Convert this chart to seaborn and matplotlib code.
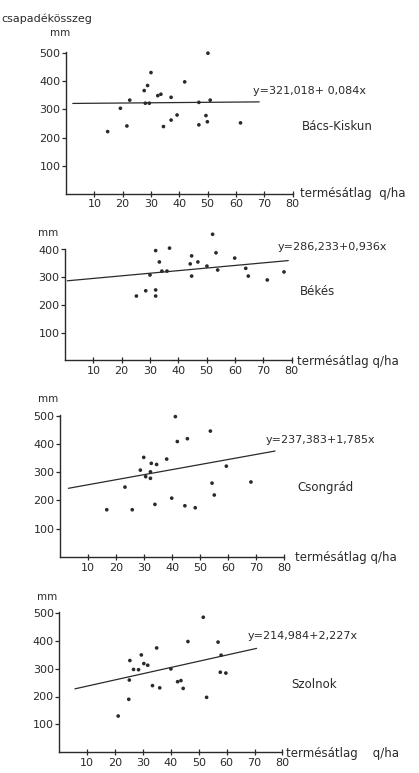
import numpy as np
import pandas as pd
import matplotlib
matplotlib.use("Agg")
import matplotlib.pyplot as plt
import seaborn as sns

sns.set_theme(style="white")
plt.rcParams['font.family'] = ['DejaVu Sans']

# ---------------- data ----------------
bk_x = [14.7, 19.2, 21.5, 22.5, 27.6, 28.8, 30.0, 28.0, 29.4, 32.4, 33.5, 37.1,
        34.4, 37.1, 39.2, 41.9, 46.9, 46.9, 49.4, 49.9, 50.1, 50.9, 61.6]
bk_y = [221, 304, 241, 333, 367, 385, 431, 322, 322, 349, 354, 343,
        239, 262, 280, 398, 325, 245, 278, 256, 500, 333, 252]

be_x = [25.2, 28.5, 30.0, 32.0, 32.0, 32.0, 33.3, 34.2, 36.0, 36.9, 44.2, 44.7,
        44.7, 46.9, 50.1, 52.1, 53.3, 53.9, 59.9, 63.8, 64.7, 71.4, 77.3]
be_y = [232, 251, 308, 396, 254, 232, 355, 322, 322, 405, 348, 377,
        304, 355, 340, 455, 388, 326, 369, 332, 304, 290, 319]

cs_x = [16.7, 23.2, 25.8, 28.7, 29.9, 30.6, 32.3, 32.3, 32.6, 34.5, 33.9, 38.1,
        39.9, 41.2, 41.9, 44.6, 45.5, 48.3, 53.7, 54.3, 55.1, 59.4, 68.2]
cs_y = [167, 247, 167, 307, 352, 284, 301, 278, 331, 327, 186, 346,
        208, 496, 408, 181, 418, 174, 445, 261, 219, 321, 265]

sz_x = [21.1, 24.9, 25.1, 25.3, 26.6, 28.4, 29.4, 30.3, 31.7, 33.4, 34.9, 36.0,
        40.0, 42.4, 43.6, 44.4, 46.1, 51.6, 52.8, 56.9, 58.0, 57.7, 59.7]
sz_y = [130, 190, 259, 329, 297, 296, 349, 318, 312, 239, 374, 231,
        299, 253, 257, 229, 397, 484, 197, 395, 348, 287, 284]

names = ["Bács-Kiskun", "Békés", "Csongrád", "Szolnok"]
intercepts = [321.018, 286.233, 237.383, 214.984]
slopes = [0.084, 0.936, 1.785, 2.227]
equations = ["y=321,018+ 0,084x", "y=286,233+0,936x", "y=237,383+1,785x", "y=214,984+2,227x"]
line_ranges = [(2.4, 68.2), (0.8, 78.8), (3.0, 76.8), (5.6, 70.7)]
xticks = [10, 20, 30, 40, 50, 60, 70, 80]
yticks_all = [[100, 200, 300, 400, 500],
              [100, 200, 300, 400],
              [100, 200, 300, 400, 500],
              [100, 200, 300, 400, 500]]
xlabels = ["termésátlag  q/ha", "termésátlag q/ha", "termésátlag q/ha", "termésátlag    q/ha"]

xs_all = [bk_x, be_x, cs_x, sz_x]
ys_all = [bk_y, be_y, cs_y, sz_y]

# ---------------- layout (pixels) ----------------
W, H = 419, 773
fig = plt.figure(figsize=(W / 100, H / 100), dpi=100)
fig.patch.set_facecolor("white")

# x0px, px per 10 units, y0px (from top), px per 100 units
geo = [(66, 28.33, 193.7, 28.1),
       (65, 28.33, 360.3, 27.7),
       (60, 28.0, 557.0, 28.3),
       (59.3, 27.9, 752.3, 27.9)]
eq_pos = [(253, 91), (278, 247), (266, 440), (248, 636)]
name_pos = [(302, 127), (300, 292), (297, 488), (291, 684)]
mm_pos = [(50, 33), (38, 233), (38, 399), (37, 597)]
xl_pos = [(300, 193), (297, 362), (295, 558), (286, 754)]

XMAX, YMAX = 82, 520
ink = "#2a2a2a"

def ftxt(x, y, s, **kw):
    fig.text(x / W, 1 - y / H, s, va="center", color=ink, **kw)

for i in range(4):
    x0, p10, y0, p100 = geo[i]
    wpx = XMAX / 10 * p10
    hpx = YMAX / 100 * p100
    ax = fig.add_axes([x0 / W, (H - y0) / H, wpx / W, hpx / H])
    ax.set_facecolor("none")
    df = pd.DataFrame({"x": xs_all[i], "y": ys_all[i]})
    sns.scatterplot(data=df, x="x", y="y", ax=ax, s=7, color=ink,
                    edgecolor="none", clip_on=False)
    lx = np.array(line_ranges[i])
    ldf = pd.DataFrame({"x": lx, "y": intercepts[i] + slopes[i] * lx})
    sns.lineplot(data=ldf, x="x", y="y", ax=ax, color=ink, linewidth=0.9)
    yt = yticks_all[i]
    ax.set_xlim(0, XMAX)
    ax.set_ylim(0, YMAX)
    ax.set_xlabel("")
    ax.set_ylabel("")
    ax.set_xticks(xticks)
    ax.set_yticks(yt)
    ax.set_xticklabels([str(t) for t in xticks])
    ax.set_yticklabels([str(t) for t in yt])
    for s in ["top", "right"]:
        ax.spines[s].set_visible(False)
    ax.spines["left"].set_bounds(0, yt[-1] + 3)
    ax.spines["bottom"].set_bounds(0, 80)
    for s in ["left", "bottom"]:
        ax.spines[s].set_color(ink)
        ax.spines[s].set_linewidth(1.0)
    ax.tick_params(axis="x", direction="inout", length=4, width=0.9,
                   colors=ink, labelsize=8, pad=2, bottom=True)
    ax.tick_params(axis="y", direction="out", length=3, width=0.9,
                   colors=ink, labelsize=8, pad=1, left=True)
    ax.grid(False)

    ftxt(*eq_pos[i], equations[i], fontsize=8, ha="left")
    ftxt(*name_pos[i], names[i], fontsize=8.5, ha="left")
    ftxt(*mm_pos[i], "mm", fontsize=7.5, ha="left")
    ftxt(*xl_pos[i], xlabels[i], fontsize=8.5, ha="left")

ftxt(1, 19, "csapadékösszeg", fontsize=8, ha="left")

fig.savefig("out.png", dpi=100, facecolor="white")
